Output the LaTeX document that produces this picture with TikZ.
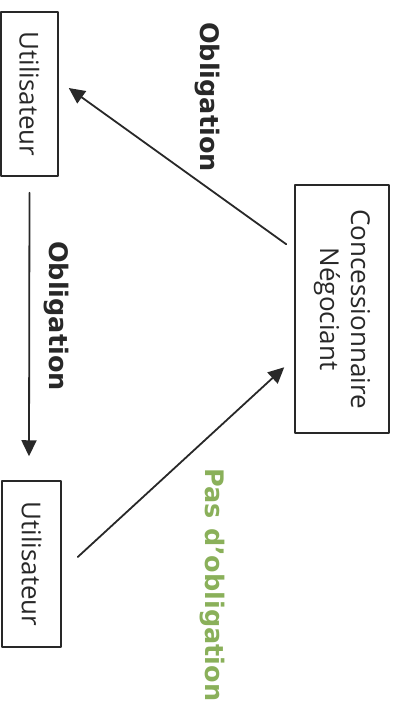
\documentclass[tikz,border=0pt]{standalone}
\usepackage{fontspec}
\setmainfont{Open Sans}
\newfontfamily\lblfont{DejaVu Sans}
\usepackage{tikz}
\usetikzlibrary{arrows.meta}
\usetikzlibrary{positioning}
\definecolor{inkgray}{RGB}{40,40,40}
\definecolor{passgreen}{RGB}{138,176,90}
\tikzset{
  rolebox/.style={draw=inkgray,line width=1.5pt,rotate=-90,inner sep=0pt,
    text=inkgray,align=center,font=\fontsize{26}{31}\selectfont},
  lbl/.style={rotate=-90,inner sep=0pt,text=inkgray,
    font=\lblfont\bfseries\fontsize{25.5}{30}\selectfont},
  arr/.style={->,draw=inkgray,line width=1.8pt}
}
\begin{document}
\begin{tikzpicture}[line cap=round,line join=round,>={Triangle[length=16pt,width=15pt]},x=1pt,y=-1pt]
\useasboundingbox (0,0) rectangle (399,706);
\node[rolebox,minimum width=164pt,minimum height=57pt] (ut1) at (29.5,94) {Utilisateur};
\node[rolebox,minimum width=166pt,minimum height=59pt] (ut2) at (31.5,564) {Utilisateur};
\node[rolebox,minimum width=248pt,minimum height=94pt] (conc) at (342,309) {Concessionnaire\\N\'egociant};
\draw[arr] ([shift={(-8,60)}]conc.south west) -- ([shift={(10,-6)}]ut1.north);
\draw[arr] ([shift={(0,16)}]ut1.east) -- ([shift={(-2.5,-24)}]ut2.west);
\draw[arr] ([shift={(16,-7)}]ut2.north) -- ([shift={(-10,183)}]conc.south west);
\node[lbl] (obl1) at (207,97) {Obligation};
\node[lbl] (obl2) at (56,316) {Obligation};
\node[lbl,text=passgreen] (pasobl) at (212,585) {Pas d’obligation};
\end{tikzpicture}
\end{document}
